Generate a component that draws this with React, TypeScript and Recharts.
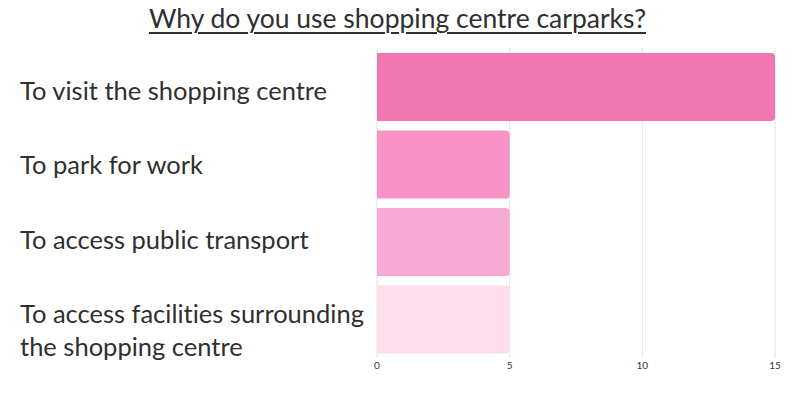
import { BarChart, Bar, XAxis, YAxis, CartesianGrid, Cell } from 'recharts';

const categories = [
  'To visit the shopping centre',
  'To park for work',
  'To access public transport',
  'To access facilities surrounding the shopping centre',
];
const counts = [15, 5, 5, 5];
const xTicks = [0, 5, 10, 15];
const COLORS = ['#f076af', '#f992c6', '#f7abd2', '#fdddec'];

const data = categories.map((name, i) => ({ name, value: counts[i] }));

// simple word wrap by character count
function wrap(text: string, max: number) {
  const lines: string[] = [];
  let cur = '';
  text.split(' ').forEach((w) => {
    if (cur && (cur + ' ' + w).length > max) {
      lines.push(cur);
      cur = w;
    } else {
      cur = cur ? cur + ' ' + w : w;
    }
  });
  if (cur) lines.push(cur);
  return lines;
}

const CategoryTick = (props: any) => {
  const { y, payload, index } = props;
  const lines = wrap(payload.value, 32);
  const base = y + 13 - index * 3;
  return (
    <text
      x={20}
      y={base}
      textAnchor="start"
      fill="#2f2f2f"
      fontSize={25.5}
      fontFamily="Lato, sans-serif"
      style={{ fontVariantLigatures: 'none' }}
    >
      {lines.map((l, i) => (
        <tspan key={i} x={20} dy={i === 0 ? 0 : 33}>
          {l}
        </tspan>
      ))}
    </text>
  );
};

export default function App() {
  return (
    <div style={{ position: 'absolute', left: 0, top: 0, width: 803, height: 398, background: '#fff' }}>
      <div
        style={{
          position: 'absolute',
          left: 0,
          top: 2,
          width: 795,
          textAlign: 'center',
          fontFamily: 'Lato, sans-serif',
          fontSize: 26.5,
          color: '#2f2f2f',
          textDecoration: 'underline',
          textDecorationThickness: 2,
          textUnderlineOffset: 4,
        }}
      >
        Why do you use shopping centre carparks?
      </div>
      <BarChart
        width={803}
        height={398}
        data={data}
        layout="vertical"
        margin={{ top: 48, right: 28, bottom: 20, left: 0 }}
        barCategoryGap={0}
      >
        <CartesianGrid horizontal={false} vertical stroke="#e2e2e2" />
        <XAxis
          type="number"
          domain={[0, 15]}
          ticks={xTicks}
          axisLine={false}
          tickLine={false}
          tickSize={0}
          tickMargin={4}
          height={20}
          tick={{ fontSize: 10, fill: '#333', fontFamily: 'Lato, sans-serif' }}
        />
        <YAxis
          type="category"
          dataKey="name"
          width={377}
          axisLine={false}
          tickLine={false}
          tick={<CategoryTick />}
        />
        <Bar dataKey="value" barSize={68} radius={[0, 4, 4, 0]} isAnimationActive={false}>
          {data.map((_, i) => (
            <Cell key={`cell-${i}`} fill={COLORS[i % COLORS.length]} />
          ))}
        </Bar>
      </BarChart>
    </div>
  );
}
